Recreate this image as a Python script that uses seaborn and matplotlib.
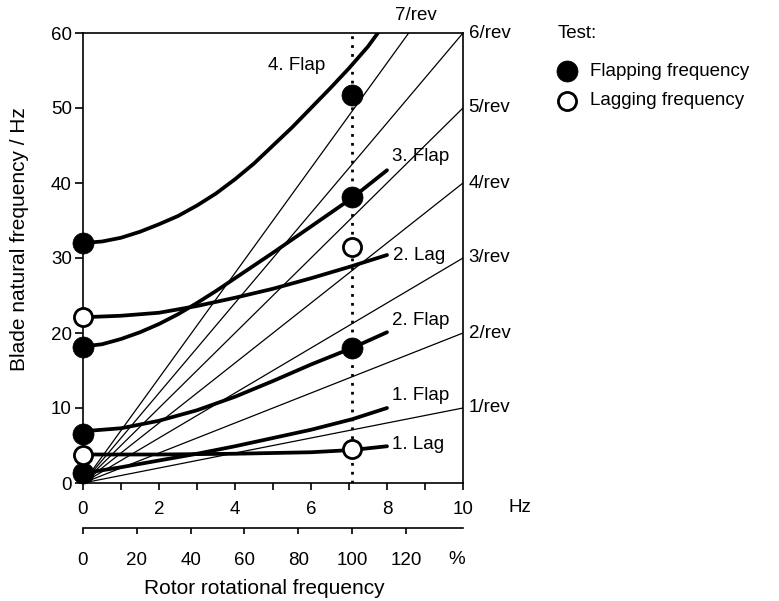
import numpy as np
import pandas as pd
import matplotlib
matplotlib.use("Agg")
import matplotlib.pyplot as plt
import seaborn as sns

# ---------------- data ----------------
# rotor speed (Hz) corresponding to 100 % nominal speed
HZ_100 = 7.08

# per-rev lines: value reached at 10 Hz
rev_labels = ["1/rev", "2/rev", "3/rev", "4/rev", "5/rev", "6/rev", "7/rev"]
rev_x = [0, 10]
rev_end = [10, 20, 30, 40, 50, 60, 70]

# computed blade natural frequency curves
flap4_hz = [0, 0.5, 1, 1.5, 2, 2.5, 3, 3.5, 4, 4.5, 5, 5.5, 6, 6.5, 7, 7.5, 7.76]
flap4_f = [32.0, 32.2, 32.7, 33.5, 34.5, 35.6, 37.0, 38.6, 40.5, 42.6,
           45.0, 47.4, 50.0, 52.6, 55.3, 58.2, 60.0]
flap3_hz = [0, 0.5, 1, 1.5, 2, 2.5, 3, 3.5, 4, 5, 6, 7.08, 8]
flap3_f = [18.2, 18.5, 19.2, 20.1, 21.2, 22.5, 24.0, 25.6, 27.3, 30.7, 34.2, 38.0, 41.7]
lag2_hz = [0, 1, 2, 3, 4, 5, 6, 7, 8]
lag2_f = [22.1, 22.3, 22.7, 23.6, 24.7, 25.9, 27.3, 28.8, 30.4]
flap2_hz = [0, 1, 2, 3, 4, 5, 6, 7.08, 8]
flap2_f = [6.9, 7.3, 8.3, 9.7, 11.5, 13.6, 15.8, 18.0, 20.1]
flap1_hz = [0, 1, 2, 3, 4, 5, 6, 7.08, 8]
flap1_f = [1.3, 2.1, 3.0, 3.9, 4.9, 6.0, 7.1, 8.5, 10.0]
lag1_hz = [0, 2, 4, 6, 7.08, 8]
lag1_f = [3.8, 3.8, 3.9, 4.1, 4.4, 4.9]

mode_names = ["4. Flap", "3. Flap", "2. Lag", "2. Flap", "1. Flap", "1. Lag"]
mode_label_pos = [(4.87, 55.7), (8.13, 43.5), (8.16, 30.4),
                  (8.13, 21.7), (8.13, 11.7), (8.13, 5.1)]

# test points
flap_test_hz = [0, 0, 0, 0, 7.08, 7.08, 7.08]
flap_test_f = [32.0, 18.2, 6.6, 1.4, 51.8, 38.1, 18.0]
lag_test_hz = [0, 0, 7.08, 7.08]
lag_test_f = [22.2, 3.8, 31.5, 4.5]

hz_ticks = [0, 2, 4, 6, 8, 10]
pct_ticks = [0, 20, 40, 60, 80, 100, 120]
y_ticks = [0, 10, 20, 30, 40, 50, 60]

# ---------------- figure ----------------
sns.set_theme(style="ticks")
plt.rcParams['font.family'] = ['Liberation Sans', 'DejaVu Sans']
plt.rcParams['text.color'] = 'black'
plt.rcParams['axes.labelcolor'] = 'black'
plt.rcParams['xtick.color'] = 'black'
plt.rcParams['ytick.color'] = 'black'

W, H = 779, 601
fig = plt.figure(figsize=(W / 100, H / 100), dpi=100)
ax = fig.add_axes([83 / W, 1 - 483 / H, 380 / W, 450 / H])

# per-rev lines
rev_df = pd.DataFrame({
    "rev": np.repeat(rev_labels, 2),
    "hz": rev_x * len(rev_labels),
    "f": [v for e in rev_end for v in (0, e)],
})
sns.lineplot(data=rev_df, x="hz", y="f", units="rev", estimator=None,
             sort=False, color="black", lw=0.9, ax=ax, legend=False)

# computed curves
curves = [(flap4_hz, flap4_f), (flap3_hz, flap3_f), (lag2_hz, lag2_f),
          (flap2_hz, flap2_f), (flap1_hz, flap1_f), (lag1_hz, lag1_f)]
rows = []
for name, (xs, ys) in zip(mode_names, curves):
    for x, y in zip(xs, ys):
        rows.append((name, x, y))
curve_df = pd.DataFrame(rows, columns=["mode", "hz", "f"])
sns.lineplot(data=curve_df, x="hz", y="f", units="mode", estimator=None,
             sort=False, color="black", lw=2.7, ax=ax, legend=False)
for ln in ax.get_lines():
    ln.set_solid_joinstyle("round")
    ln.set_solid_capstyle("round")

# nominal speed dotted line
ax.vlines(HZ_100, 0, 60, colors="black", linestyles=(0, (1, 2.2)), lw=2.0, zorder=3)

# test points
sns.scatterplot(x=flap_test_hz, y=flap_test_f, s=230, color="black",
                edgecolor="black", linewidth=0.5, ax=ax, zorder=6, clip_on=False,
                label="Flapping frequency")
sns.scatterplot(x=lag_test_hz, y=lag_test_f, s=170, color="white",
                edgecolor="black", linewidth=2.0, ax=ax, zorder=6, clip_on=False,
                label="Lagging frequency")

# mode labels
for name, (x, y) in zip(mode_names, mode_label_pos):
    ax.text(x, y, name, fontsize=13.5, ha="left", va="center")

# per-rev labels
for lab, e in zip(rev_labels[:-1], rev_end[:-1]):
    ax.text(10.15, e, lab, fontsize=13.5, ha="left", va="center", clip_on=False)
ax.text(8.76, 62.4, rev_labels[-1], fontsize=13.5, ha="center", va="center", clip_on=False)

# axes
ax.set_xlim(0, 10)
ax.set_ylim(0, 60)
ax.set_xticks(hz_ticks)
ax.set_xticks(range(0, 11), minor=True)
ax.set_yticks(y_ticks)
ax.set_xlabel("")
ax.set_ylabel("")
for sp in ax.spines.values():
    sp.set_visible(True)
    sp.set_linewidth(1.2)
    sp.set_color("black")
ax.tick_params(axis="x", which="both", direction="out", length=5, width=1.2,
               labelsize=13.5, pad=8, colors="black")
ax.tick_params(axis="y", direction="out", length=6, width=1.2,
               labelsize=13.5, pad=2, colors="black")

# percent axis
secax = ax.secondary_xaxis(-0.1, functions=(lambda h: np.asarray(h) / HZ_100 * 100,
                                            lambda p: np.asarray(p) * HZ_100 / 100))
secax.set_xticks(pct_ticks)
secax.tick_params(axis="x", direction="out", length=4, width=1.2,
                  labelsize=13.5, pad=13, colors="black")
secax.spines["bottom"].set_linewidth(1.2)
secax.spines["bottom"].set_color("black")

# unit labels
fig.text(520 / W, 1 - 507 / H, "Hz", fontsize=13.5, ha="center", va="center")
fig.text(457 / W, 1 - 559 / H, "%", fontsize=13.5, ha="center", va="center")

# axis titles
fig.text(264 / W, 1 - 588 / H, "Rotor rotational frequency", fontsize=15,
         ha="center", va="center")
fig.text(20 / W, 1 - 239 / H, "Blade natural frequency / Hz", fontsize=15,
         ha="center", va="center", rotation=90)

# legend
fig.text(558 / W, 1 - 33 / H, "Test:", fontsize=13.5, ha="left", va="center")
ax.legend(loc="upper left", bbox_to_anchor=(558 / W, 1 - 63 / H),
          bbox_transform=fig.transFigure, frameon=False, fontsize=13.5,
          borderpad=0, borderaxespad=0, handlelength=1.0, handletextpad=0.7,
          labelspacing=0.65)

fig.savefig("out.png", dpi=100)
